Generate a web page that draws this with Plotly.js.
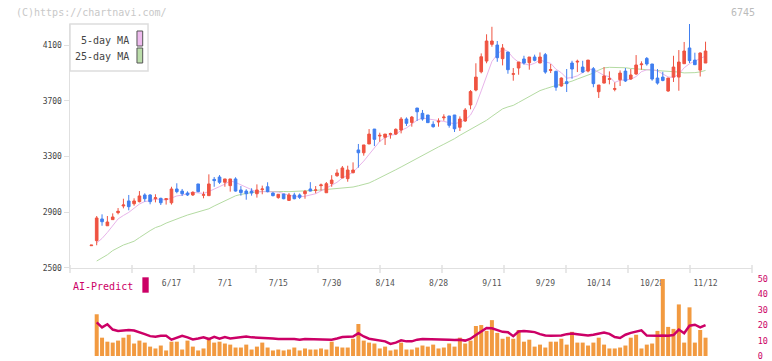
<!DOCTYPE html>
<html><head><meta charset="utf-8">
<script src="https://cdn.plot.ly/plotly-3.0.1.min.js"></script>
<style>html,body{margin:0;padding:0;background:#fff;}#chart{width:772px;height:361px;}</style>
</head><body><div id="chart"></div>
<script>
const dates = ["5/27","5/28","5/29","5/30","6/2","6/3","6/4","6/5","6/6","6/9","6/10","6/11","6/12","6/13","6/16","6/17","6/18","6/19","6/20","6/23","6/24","6/25","6/26","6/27","6/30","7/1","7/2","7/3","7/4","7/7","7/8","7/9","7/10","7/11","7/14","7/15","7/16","7/17","7/18","7/22","7/23","7/24","7/25","7/28","7/29","7/30","7/31","8/1","8/4","8/5","8/6","8/7","8/8","8/12","8/13","8/14","8/15","8/18","8/19","8/20","8/21","8/22","8/25","8/26","8/27","8/28","8/29","9/1","9/2","9/3","9/4","9/5","9/8","9/9","9/10","9/11","9/12","9/16","9/17","9/18","9/19","9/22","9/24","9/25","9/26","9/29","9/30","10/1","10/2","10/3","10/6","10/7","10/8","10/9","10/10","10/14","10/15","10/16","10/17","10/20","10/21","10/22","10/23","10/24","10/27","10/28","10/29","10/30","10/31","11/4","11/5","11/6","11/7","11/10","11/11","11/12"];

const openP = [2660,2696,2852,2803,2847,2897,2945,2981,2961,2976,
3024,3024,2997,3000,2991,2968,3067,3052,3038,3024,
3103,3022,3019,3136,3153,3115,3091,3139,3060,3052,
3052,3033,3062,3083,3038,3005,3031,2985,3024,3024,
3033,3067,3057,3091,3040,3106,3162,3146,3141,3184,
3347,3327,3390,3497,3447,3438,3459,3461,3490,3569,
3545,3648,3610,3598,3531,3548,3578,3591,3598,3510,
3555,3670,3777,3908,3985,4105,4100,4002,4050,3890,
3935,4000,3973,4014,3971,4031,3918,3911,3806,3837,
3971,3978,3942,3913,3930,3765,3827,3854,3782,3851,
3913,3856,3892,3959,4004,3964,3863,3870,3770,3870,
3870,3966,4079,3992,3920,3971];
const highP = [2665,2873,2885,2873,2892,2930,2997,3024,3000,3052,
3036,3029,3029,3004,3000,3083,3108,3067,3050,3050,
3103,3048,3172,3153,3167,3139,3139,3151,3088,3065,
3072,3100,3091,3115,3043,3029,3031,3038,3040,3035,
3060,3116,3088,3106,3117,3166,3208,3232,3234,3258,
3390,3383,3497,3497,3471,3461,3471,3502,3583,3581,
3591,3648,3634,3598,3553,3574,3603,3591,3598,3588,
3648,3777,3969,4040,4177,4231,4129,4107,4050,3935,
3978,4023,4014,4031,4047,4043,3964,3916,3868,3928,
3987,3995,3987,3992,3942,3813,3942,3911,3832,3918,
3935,3928,4028,3983,4014,3964,3928,3908,3863,4023,
4064,4122,4251,4045,4047,4124];
const lowP = [2659,2663,2803,2803,2847,2885,2928,2914,2947,2971,
2976,2957,2971,2952,2955,2955,3036,3017,3017,3017,
3043,3000,3019,3083,3103,3083,3048,3048,3019,2990,
3019,3005,3029,3043,3014,2997,2993,2981,2993,2995,
2997,3050,3036,3055,3040,3083,3155,3146,3119,3179,
3220,3306,3390,3375,3406,3383,3428,3454,3466,3519,
3514,3555,3557,3543,3507,3514,3557,3507,3476,3483,
3548,3639,3768,3897,3969,4088,3980,3954,3894,3844,
3887,3959,3923,3983,3971,3894,3899,3772,3801,3763,
3858,3906,3899,3904,3797,3720,3825,3818,3768,3806,
3835,3851,3887,3923,3952,3844,3816,3840,3765,3835,
3772,3966,3971,3959,3874,3971];
const closeP = [2664,2859,2832,2830,2866,2907,2952,2940,2981,3017,
2997,2976,3004,2968,2997,3067,3048,3033,3024,3043,
3048,3026,3103,3127,3115,3139,3139,3052,3041,3033,
3038,3060,3067,3048,3019,3029,2997,3024,2997,3007,
3050,3052,3060,3096,3105,3131,3182,3218,3203,3203,
3327,3383,3461,3423,3452,3461,3464,3495,3569,3538,
3583,3621,3569,3543,3514,3553,3583,3524,3499,3569,
3634,3766,3870,4016,4129,4129,4009,4079,3923,3894,
3978,3971,4014,3990,4014,3906,3923,3797,3863,3823,
3928,3983,3906,3992,3823,3813,3878,3858,3787,3899,
3842,3885,3957,3964,3964,3856,3827,3846,3863,3942,
3978,4057,3988,3959,4043,4057];

const ma5 = [null,2680,2712,2755,2800,2852,2877,2899,2929,2959,
2977,2982,2995,2992,2988,3002,3017,3023,3034,3043,
3039,3035,3049,3069,3084,3102,3125,3114,3097,3081,
3061,3045,3048,3049,3046,3045,3032,3023,3013,3011,
3015,3026,3033,3053,3073,3089,3115,3146,3168,3187,
3227,3267,3315,3359,3409,3436,3452,3459,3488,3505,
3530,3561,3576,3571,3566,3560,3552,3543,3535,3546,
3562,3598,3668,3771,3883,3982,4031,4072,4054,4007,
3977,3969,3956,3969,3993,3979,3969,3926,3901,3862,
3867,3879,3901,3926,3926,3903,3882,3873,3832,3847,
3853,3854,3874,3909,3922,3925,3914,3891,3871,3867,
3891,3937,3966,3985,4005,4021];
const ma25 = [null,2550,2572,2595,2625,2645,2665,2678,2692,2718,
2745,2768,2790,2803,2822,2835,2852,2866,2880,2892,
2902,2911,2925,2945,2963,2982,3002,3018,3028,3036,
3044,3047,3049,3050,3050,3050,3049,3048,3049,3051,
3053,3055,3057,3060,3063,3066,3068,3071,3075,3081,
3090,3100,3110,3128,3146,3165,3184,3205,3225,3246,
3267,3289,3311,3330,3350,3369,3388,3406,3428,3452,
3473,3492,3513,3535,3560,3588,3615,3642,3656,3667,
3688,3710,3731,3752,3773,3786,3800,3810,3818,3827,
3841,3856,3870,3885,3899,3920,3936,3940,3940,3940,
3937,3932,3928,3925,3923,3920,3917,3914,3912,3911,
3906,3900,3899,3902,3907,3918];

const aiVolume = [null,27.1,11.9,9.3,8.7,10.0,11.9,13.8,8.1,10.0,
8.7,6.1,4.9,6.8,3.6,9.3,9.3,4.2,10.0,6.1,
3.6,4.9,11.9,8.7,9.3,8.1,7.4,5.5,5.5,7.4,
4.2,6.1,8.7,5.5,3.6,4.2,3.6,4.2,5.5,3.6,
4.9,4.2,4.2,4.9,4.2,9.3,6.1,5.5,5.5,11.2,
20.8,10.0,8.7,8.1,4.9,6.1,3.6,4.2,8.7,4.2,
4.2,5.5,6.8,6.1,7.4,4.9,5.5,8.1,6.1,11.9,
8.1,10.0,19.5,20.1,16.3,23.3,15.0,11.2,12.5,11.2,
16.9,9.3,10.6,6.1,7.4,5.5,9.3,9.3,11.2,7.4,
15.7,8.7,8.7,6.8,8.7,11.9,7.4,4.9,4.9,5.5,
6.8,11.9,13.8,4.9,7.4,8.1,16.3,50,18.9,17.6,
33.5,8.7,31.6,8.7,16.9,11.9];
const aiLine = [null,21.8,18.6,20.6,17.2,16.3,16.5,16.9,16.5,15.5,
14.2,12.9,12.5,13.1,13.1,10.6,11.9,13.1,12.1,10.8,
11.4,12.1,11.0,12.5,11.2,12.3,11.4,11.9,12.3,12.7,
12.1,11.9,11.9,11.9,11.4,11.0,10.8,11.0,11.0,10.6,
11.0,11.0,11.0,11.0,10.8,10.6,11.4,12.3,12.5,12.7,
14.8,12.7,11.2,10.6,10.4,9.5,7.8,8.7,10.2,9.5,
9.5,10.6,11.0,11.0,10.8,10.6,11.0,10.6,10.4,10.6,
10.0,11.2,13.6,15.9,18.2,18.0,16.9,15.7,15.5,12.9,
15.9,16.3,15.9,15.5,14.2,13.3,13.1,13.1,13.3,14.2,
14.6,14.2,13.8,13.3,13.8,14.8,15.3,14.4,12.3,11.7,
13.8,15.0,15.9,16.7,13.3,13.1,13.1,13.3,13.1,13.6,
17.2,14.8,19.7,20.3,18.6,20.1];

const tickDates = ["6/17","7/1","7/15","7/30","8/14","8/28","9/11","9/29","10/14","10/28","11/12"];
const priceTicks = [2500,2900,3300,3700,4100];
const aiTicks = [0,10,20,30,40,50];

const MONO = "DejaVu Sans Mono, Liberation Mono, monospace";
const UP = "#ef5341", DOWN = "#407ff0";
const CRIMSON = "#cc0066";

const traces = [
  {type:"scatter", mode:"lines", x:dates, y:ma25, xaxis:"x", yaxis:"y",
   line:{color:"#b4dba2", width:1}, hoverinfo:"skip"},
  {type:"scatter", mode:"lines", x:dates, y:ma5, xaxis:"x", yaxis:"y",
   line:{color:"#e8b4ea", width:1}, hoverinfo:"skip"},
  {type:"candlestick", x:dates, open:openP, high:highP, low:lowP, close:closeP,
   xaxis:"x", yaxis:"y3", whiskerwidth:0,
   increasing:{line:{color:UP, width:1}, fillcolor:UP},
   decreasing:{line:{color:DOWN, width:1}, fillcolor:DOWN}, hoverinfo:"skip"},
  {type:"bar", x:dates, y:aiVolume, xaxis:"x", yaxis:"y2",
   marker:{color:"#f29a40", line:{width:0}}, hoverinfo:"skip"},
  {type:"scatter", mode:"lines", x:dates, y:aiLine, xaxis:"x", yaxis:"y2",
   line:{color:CRIMSON, width:2.5}, hoverinfo:"skip"}
];

const tickShapes = [];
for (let k = 0; k <= 11; k++) {
  tickShapes.push({type:"line", xref:"paper", yref:"paper", x0:k/11, x1:k/11, y0:0.25, y1:0.2741,
    line:{color:"#e0e0e0", width:1.5}, layer:"above"});
}

const layout = {
  width:772, height:361,
  margin:{l:70, r:20, t:24, b:5},
  paper_bgcolor:"#ffffff", plot_bgcolor:"#ffffff",
  showlegend:false, bargap:0.25, boxgap:0.3,
  font:{family:MONO, size:8, color:"#555"},
  xaxis:{type:"category", range:[-4, 123.7], domain:[0,1], anchor:"y",
    showline:true, linecolor:"#e0e0e0", linewidth:1.5, showgrid:false, zeroline:false,
    tickmode:"array", tickvals:tickDates, ticktext:tickDates,
    ticks:"outside", ticklen:7, tickcolor:"rgba(0,0,0,0)",
    tickfont:{family:MONO, size:8, color:"#555"},
    rangeslider:{visible:false}, fixedrange:true},
  yaxis:{domain:[0.2651,1], range:[2500,4251], anchor:"x",
    showline:true, linecolor:"#e0e0e0", linewidth:1.5, showgrid:false, zeroline:false,
    tickmode:"array", tickvals:priceTicks, ticks:"outside", ticklen:5, tickcolor:"#e0e0e0",
    tickfont:{family:MONO, size:8, color:"#444"}, fixedrange:true},
  yaxis3:{overlaying:"y", range:[2500,4251], anchor:"x", visible:false, fixedrange:true},
  yaxis2:{domain:[0,0.2319], range:[0,50], anchor:"x", side:"right",
    showline:false, showgrid:false, zeroline:false, ticklabeloverflow:"allow",
    tickmode:"array", tickvals:aiTicks, ticks:"outside", ticklen:3, tickcolor:"rgba(0,0,0,0)",
    tickfont:{family:MONO, size:8.5, color:CRIMSON}, fixedrange:true},
  shapes: tickShapes.concat([
    {type:"rect", xref:"paper", yref:"paper", x0:0, x1:0.1144, y0:0.8584, y1:1.0,
     fillcolor:"#ffffff", line:{color:"#dddddd", width:1.5}, layer:"above"},
    {type:"rect", xref:"paper", yref:"paper", x0:0.0982, x1:0.1066, y0:0.9337, y1:0.9789,
     fillcolor:"#eebbee", line:{color:"#555555", width:1}, layer:"above"},
    {type:"rect", xref:"paper", yref:"paper", x0:0.0982, x1:0.1066, y0:0.8825, y1:0.9277,
     fillcolor:"#bbddaa", line:{color:"#555555", width:1}, layer:"above"},
    {type:"rect", xref:"paper", yref:"paper", x0:0.1061, x1:0.1154, y0:0.1907, y1:0.2370,
     fillcolor:CRIMSON, line:{width:0}, layer:"above"}
  ]),
  annotations:[
    {xref:"paper", yref:"paper", x:-0.0821, y:1.0346, xanchor:"left", yanchor:"middle",
     text:"(C)https://chartnavi.com/", showarrow:false, font:{family:MONO, size:10, color:"#c8c8c8"}},
    {xref:"paper", yref:"paper", x:1.0078, y:1.0346, xanchor:"right", yanchor:"middle",
     text:"6745", showarrow:false, font:{family:MONO, size:10, color:"#bbbbbb"}},
    {xref:"paper", yref:"paper", x:0.0895, y:0.9518, xanchor:"right", yanchor:"middle",
     text:"5-day MA", showarrow:false, font:{family:MONO, size:10, color:"#444"}},
    {xref:"paper", yref:"paper", x:0.0895, y:0.9021, xanchor:"right", yanchor:"middle",
     text:"25-day MA", showarrow:false, font:{family:MONO, size:10, color:"#444"}},
    {xref:"paper", yref:"paper", x:0.0953, y:0.2108, xanchor:"right", yanchor:"middle",
     text:"AI-Predict", showarrow:false, font:{family:MONO, size:10, color:CRIMSON}}
  ]
};

Plotly.newPlot("chart", traces, layout, {staticPlot:true, displayModeBar:false});
</script></body></html>
